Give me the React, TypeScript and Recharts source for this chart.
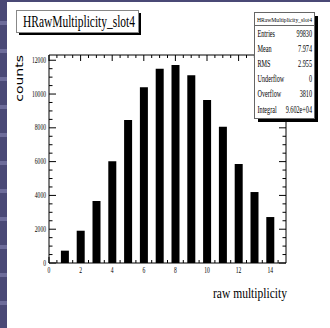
import { BarChart, Bar, XAxis, YAxis, ReferenceLine, ReferenceArea } from "recharts";

// histogram bins (bin centre) and their contents
const multiplicity = [1, 2, 3, 4, 5, 6, 7, 8, 9, 10, 11, 12, 13, 14];
const counts = [730, 1910, 3670, 6020, 8470, 10400, 11500, 11720, 11110, 9650, 8060, 5860, 4200, 2720];

const xTicks = [0, 2, 4, 6, 8, 10, 12, 14];
const yTicks = [0, 2000, 4000, 6000, 8000, 10000, 12000];

const histName = "HRawMultiplicity_slot4";
const statLabels = ["Entries", "Mean", "RMS", "Underflow", "Overflow", "Integral"];
const statValues = ["99830", "7.974", "2.955", "0", "3810", "9.602e+04"];

const X_MAX = 15;
const Y_MAX = 12310;
const W = 330;
const H = 328;
const PLOT_L = 49;
const PLOT_R = 286;
const PLOT_T = 55;
const PLOT_B = 263;

// data units per pixel, used for tick lengths
const ux = X_MAX / (PLOT_R - PLOT_L);
const uy = Y_MAX / (PLOT_B - PLOT_T);

const data = multiplicity.map((m, i) => ({ m, n: counts[i] }));

const xMinor: number[] = [];
for (let v = 0.5; v < X_MAX; v += 0.5) if (v % 2 !== 0) xMinor.push(v);
const yMinor: number[] = [];
for (let v = 500; v < Y_MAX; v += 500) if (v % 2000 !== 0) yMinor.push(v);

const SERIF = "'Liberation Serif', 'Times New Roman', serif";

function XTick({ x, y, payload }: any) {
  return (
    <text transform={`translate(${x},${y}) scale(0.75,1)`} textAnchor="middle" dy="0.71em" fontSize={7.5} fontFamily={SERIF} fill="#000">
      {payload.value}
    </text>
  );
}

function YTick({ x, y, payload }: any) {
  return (
    <text transform={`translate(${x},${y}) scale(0.75,1)`} textAnchor="end" dy="0.35em" fontSize={7.5} fontFamily={SERIF} fill="#000">
      {payload.value}
    </text>
  );
}

function tickLines() {
  const out: any[] = [];
  const seg = (key: string, x1: number, y1: number, x2: number, y2: number) =>
    out.push(
      <ReferenceLine key={key} segment={[{ x: x1, y: y1 }, { x: x2, y: y2 }]} stroke="#000" strokeWidth={1} ifOverflow="visible" />
    );
  xTicks.forEach((v) => {
    seg(`xb${v}`, v, 0, v, 6 * uy);
    seg(`xt${v}`, v, Y_MAX, v, Y_MAX - 6 * uy);
  });
  xMinor.forEach((v) => {
    seg(`xbm${v}`, v, 0, v, 3 * uy);
    seg(`xtm${v}`, v, Y_MAX, v, Y_MAX - 3 * uy);
  });
  yTicks.forEach((v) => {
    seg(`yl${v}`, 0, v, 7 * ux, v);
    seg(`yr${v}`, X_MAX, v, X_MAX - 7 * ux, v);
  });
  yMinor.forEach((v) => {
    seg(`ylm${v}`, 0, v, 3.5 * ux, v);
    seg(`yrm${v}`, X_MAX, v, X_MAX - 3.5 * ux, v);
  });
  return out;
}

export default function App() {
  return (
    <div style={{ position: "absolute", left: 0, top: 0, width: W, height: H, background: "#fff", overflow: "hidden" }}>
      {/* slide background showing at the edges */}
      <div
        style={{
          position: "absolute", left: 0, top: 0, width: 7, height: H,
          background: "repeating-linear-gradient(to bottom, #4a4976 0px, #4a4976 21px, #6d6c9a 21px, #6d6c9a 25px, #4a4976 25px, #4a4976 28px)",
        }}
      />
      <div style={{ position: "absolute", left: 0, top: 0, width: W, height: 2, background: "#4a4976" }} />

      <div style={{ position: "absolute", left: 0, top: 0 }}>
        <BarChart width={W} height={H} data={data} margin={{ top: PLOT_T, right: W - PLOT_R, left: 0, bottom: 0 }}>
          <XAxis
            dataKey="m"
            type="number"
            domain={[0, X_MAX]}
            ticks={xTicks}
            height={H - PLOT_B}
            axisLine={false}
            tickLine={false}
            tickSize={0}
            tickMargin={5}
            tick={<XTick />}
            interval={0}
          />
          <YAxis
            type="number"
            domain={[0, Y_MAX]}
            ticks={yTicks}
            width={PLOT_L}
            axisLine={false}
            tickLine={false}
            tickSize={0}
            tickMargin={3}
            tick={<YTick />}
            interval={0}
          />
          <Bar dataKey="n" fill="#000" barSize={8} isAnimationActive={false} />
          <ReferenceArea x1={0} x2={X_MAX} y1={0} y2={Y_MAX} fill="none" stroke="#000" strokeWidth={1} ifOverflow="visible" />
          {tickLines()}
        </BarChart>
      </div>

      <svg width={W} height={H} style={{ position: "absolute", left: 0, top: 0, pointerEvents: "none" }}>
        {/* title box */}
        <rect x={19} y={13} width={122} height={22} fill="#000" />
        <rect x={16.5} y={10.5} width={122} height={22} fill="#fff" stroke="#888" strokeWidth={1} />
        <text x={79} y={27} textAnchor="middle" fontSize={16} fontFamily={SERIF} textLength={112} lengthAdjust="spacingAndGlyphs">
          {histName}
        </text>

        {/* statistics box */}
        <rect x={258} y={16} width={60} height={106} fill="#000" />
        <rect x={254.5} y={12.5} width={60} height={106} fill="#fff" stroke="#666" strokeWidth={1} />
        <line x1={254.5} x2={314.5} y1={25.5} y2={25.5} stroke="#666" strokeWidth={1} />
        <text x={284.5} y={22} textAnchor="middle" fontSize={7} fontFamily={SERIF} textLength={55} lengthAdjust="spacingAndGlyphs">
          {histName}
        </text>
        {statLabels.map((l, i) => (
          <g key={l}>
            <text transform={`translate(257.5,${36.5 + i * 15.2}) scale(0.62,1)`} fontSize={10} fontFamily={SERIF}>
              {l}
            </text>
            <text transform={`translate(312,${36.5 + i * 15.2}) scale(0.62,1)`} textAnchor="end" fontSize={10} fontFamily={SERIF}>
              {statValues[i]}
            </text>
          </g>
        ))}

        {/* axis titles */}
        <text transform={`translate(23,${PLOT_T}) scale(0.75,1) rotate(-90)`} textAnchor="end" fontSize={14} fontFamily="'DejaVu Sans', sans-serif">
          counts
        </text>
        <text x={PLOT_R + 1} y={298} textAnchor="end" fontSize={15} fontFamily={SERIF} textLength={74} lengthAdjust="spacingAndGlyphs">
          raw multiplicity
        </text>
      </svg>
    </div>
  );
}
